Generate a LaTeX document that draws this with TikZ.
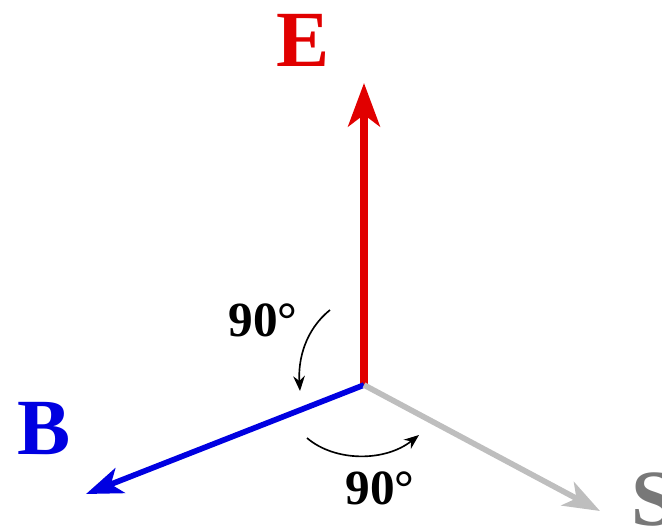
\documentclass[tikz,border=0pt]{standalone}
\usepackage{fontspec}
\setmainfont{Liberation Serif}
\usepackage{xcolor}
\usepackage{tikz}
\usetikzlibrary{arrows.meta, positioning}

\definecolor{efield}{RGB}{225,0,0}
\definecolor{bfield}{RGB}{0,0,225}
\definecolor{sdir}{RGB}{190,190,190}
\definecolor{slabel}{RGB}{120,120,120}

\begin{document}
\begin{tikzpicture}[
    x=0.03cm, y=-0.03cm,
    vec/.style={line width=2.2mm, -{Stealth[length=1.3cm, width=0.95cm, inset=0.35cm]}},
    vecthin/.style={line width=1.7mm, -{Stealth[length=1.1cm, width=0.8cm, inset=0.3cm]}},
    letter/.style={font=\fontsize{68}{68}\selectfont\bfseries, inner sep=0pt},
    angle/.style={font=\fontsize{42}{42}\selectfont\bfseries, inner sep=0pt},
    turn/.style={line width=1.4pt, -{Stealth[length=4.5mm, width=3.5mm]}}
]

\useasboundingbox (0,0) rectangle (662,526);

\coordinate (origin) at (364,385);
\coordinate (etip) at (364,83);
\coordinate (btip) at (86,494);
\coordinate (stip) at (600,511);

\node[letter, text=efield] (elabel) at (303,40) {E};
\node[letter, text=bfield] (blabel) at (44,429) {B};
\node[letter, text=slabel, anchor=west] (slabel) at (631,500) {S};

\node[angle] (upper) at (263,320) {90°};
\node[angle] (lower) at (380,488) {90°};

\draw[vec, draw=efield] (origin) -- (etip);
\draw[vecthin, draw=bfield] (origin) -- (btip);
\draw[vecthin, draw=sdir] (origin) -- (stip);

\coordinate (ustart) at (330,310);
\coordinate (uend) at (300,391);
\coordinate (lstart) at (307,438);
\coordinate (lend) at (419,435);

\draw[turn] (ustart) .. controls (305,330) and (298,360) .. (uend);
\draw[turn] (lstart) .. controls (335,462) and (385,462) .. (lend);

\end{tikzpicture}
\end{document}
